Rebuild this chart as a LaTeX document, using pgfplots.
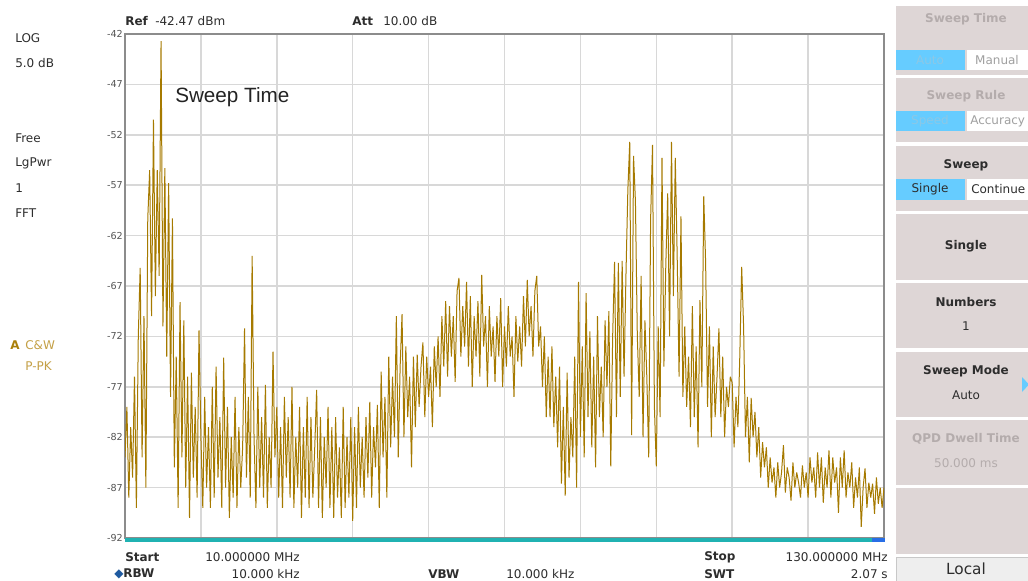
\documentclass[border=0pt]{standalone}
\usepackage{pgfplots}
\pgfplotsset{compat=1.18}
\usepackage{fontspec}
\setmainfont{DejaVu Sans}
\newfontfamily\arialfont{Liberation Sans}
\definecolor{trace}{RGB}{166,122,0}
\definecolor{gridc}{RGB}{216,216,216}
\definecolor{axisc}{RGB}{140,140,140}
\definecolor{txt}{RGB}{45,45,45}
\definecolor{tickc}{RGB}{85,85,85}
\definecolor{pbg}{RGB}{222,214,214}
\definecolor{pdis}{RGB}{180,172,172}
\definecolor{blueb}{RGB}{102,204,255}
\definecolor{bluetxt}{RGB}{140,200,230}
\definecolor{tealbar}{RGB}{32,178,178}
\definecolor{gold}{RGB}{170,128,10}
\definecolor{goldl}{RGB}{196,160,70}
\definecolor{greyt}{RGB}{160,160,160}
\definecolor{localbg}{RGB}{238,238,238}
\definecolor{localbd}{RGB}{200,200,200}
\definecolor{bluebar}{RGB}{40,110,230}
\definecolor{annot}{RGB}{35,35,35}
\definecolor{diam}{RGB}{30,90,160}
\newcommand\ui{\fontsize{9}{11}\selectfont}
\begin{document}
\begin{tikzpicture}
\begin{scope}[x=0.75pt,y=-0.75pt]
\useasboundingbox (0,0) rectangle (1028,581);
\fill[white] (0,0) rectangle (1028,581);
% left labels
\begin{scope}[every node/.style={anchor=west,inner sep=0,font=\ui,text=txt}]
\node at (15,38) {LOG};
\node at (15,63) {5.0 dB};
\node at (15,138) {Free};
\node at (15,163) {LgPwr};
\node at (15,188) {1};
\node at (15,213) {FFT};
\node[font=\ui\bfseries,text=gold] at (10,345) {A};
\node[text=goldl] at (25,345) {C\&W};
\node[text=goldl] at (25,366) {P-PK};
% top
\node[font=\ui\bfseries] at (125,21) {Ref};
\node at (155,21) {-42.47 dBm};
\node[font=\ui\bfseries] at (352,21) {Att};
\node at (383,21) {10.00 dB};
% bottom
\node[font=\ui\bfseries] at (125,557) {Start};
\node[anchor=east] at (300,557) {10.000000 MHz};
\node at (114,574) {\textcolor{diam}{◆}\textbf{RBW}};
\node[anchor=east] at (300,574) {10.000 kHz};
\node[font=\ui\bfseries] at (428,574) {VBW};
\node at (506,574) {10.000 kHz};
\node[font=\ui\bfseries] at (704,557) {Stop};
\node[anchor=east] at (888,557) {130.000000 MHz};
\node[font=\ui\bfseries] at (704,574) {SWT};
\node[anchor=east] at (888,574) {2.07 s};
\end{scope}
% right panel
\fill[pbg] (896,6) rectangle (1028,75);
\fill[pbg] (896,78) rectangle (1028,142);
\fill[pbg] (896,146) rectangle (1028,211);
\fill[pbg] (896,214) rectangle (1028,280);
\fill[pbg] (896,283) rectangle (1028,348);
\fill[pbg] (896,352) rectangle (1028,417);
\fill[pbg] (896,420) rectangle (1028,485);
\fill[pbg] (896,488) rectangle (1028,554);
\filldraw[fill=localbg,draw=localbd] (896,557) rectangle (1030,583);
\fill[blueb] (896,50) rectangle (965,70);
\fill[white] (967,50) rectangle (1028,70);
\fill[blueb] (896,111) rectangle (965,131);
\fill[white] (967,111) rectangle (1028,131);
\fill[blueb] (896,179) rectangle (965,200);
\fill[white] (967,179) rectangle (1028,200);
\fill[blueb] (1022,377) -- (1029,384.5) -- (1022,392) -- cycle;
\begin{scope}[every node/.style={inner sep=0,font=\ui,text=txt}]
\node[font=\ui\bfseries,text=pdis] at (966,19) {Sweep Time};
\node[text=bluetxt] at (930,60) {Auto};
\node[text=greyt] at (997,60) {Manual};
\node[font=\ui\bfseries,text=pdis] at (966,96) {Sweep Rule};
\node[text=bluetxt] at (930,121) {Speed};
\node[anchor=west,text=greyt] at (970,121) {Accuracy};
\node[font=\ui\bfseries] at (966,165) {Sweep};
\node at (930,189.5) {Single};
\node[anchor=west] at (971,189.5) {Continue};
\node[font=\ui\bfseries] at (966,246) {Single};
\node[font=\ui\bfseries] at (966,302) {Numbers};
\node at (966,326) {1};
\node[font=\ui\bfseries] at (966,371) {Sweep Mode};
\node at (966,395) {Auto};
\node[font=\ui\bfseries,text=pdis] at (966,439) {QPD Dwell Time};
\node[text=pdis] at (966,463) {50.000 ms};
\node[font=\fontsize{11.5}{13}\selectfont] at (966,569) {Local};
\end{scope}
\end{scope}
\begin{axis}[
  at={(93.75pt,-403.5pt)}, anchor=south west,
  width=569.25pt, height=378pt, scale only axis,
  xmin=10, xmax=130, ymin=-92, ymax=-42,
  xtick={10,22,34,46,58,70,82,94,106,118,130}, xticklabels={},
  ytick={-92,-87,-82,-77,-72,-67,-62,-57,-52,-47,-42},
  yticklabels={-92,-87,-82,-77,-72,-67,-62,-57,-52,-47,-42},
  grid=major,
  major grid style={draw=gridc, line width=1.1pt},
  axis line style={draw=axisc, line width=0.9pt},
  major tick length=0pt,
  yticklabel style={font=\fontsize{7.2}{8}\selectfont, text=tickc, inner sep=1.5pt},
]
\addplot[trace, line width=0.75pt, mark=none, line join=miter, miter limit=2] coordinates {
(10.0,-84) (10.3,-79) (10.6,-88) (10.9,-81) (11.2,-86) (11.5,-76) (11.8,-89) (12.1,-72) (12.4,-65.2) (12.7,-84)
(13.0,-70) (13.3,-87) (13.6,-60.3) (13.9,-55.5) (14.2,-70) (14.5,-50.5) (14.8,-68) (15.1,-55.5) (15.4,-66) (15.7,-42.7)
(16.0,-71) (16.3,-55.3) (16.6,-74) (16.9,-56.8) (17.2,-78) (17.5,-60.3) (17.8,-85) (18.1,-74) (18.4,-89) (18.7,-68.6)
(19.0,-84) (19.3,-70.4) (19.6,-87) (19.9,-76) (20.2,-90) (20.5,-75.6) (20.8,-86) (21.1,-79) (21.4,-88) (21.7,-71.4)
(22.0,-82) (22.3,-89) (22.6,-78) (22.9,-87) (23.2,-81) (23.5,-89) (23.8,-77) (24.1,-88) (24.4,-75) (24.7,-86)
(25.0,-80) (25.3,-89) (25.6,-74.1) (25.9,-87) (26.2,-79) (26.5,-90) (26.8,-82) (27.1,-88) (27.4,-78) (27.7,-89)
(28.0,-81) (28.3,-87) (28.6,-83) (28.9,-71.2) (29.2,-86) (29.5,-78) (29.8,-88) (30.1,-64) (30.4,-82) (30.7,-89)
(31.0,-77) (31.3,-87) (31.6,-80) (31.9,-88) (32.2,-76.8) (32.5,-89) (32.8,-82) (33.1,-87) (33.4,-73.5) (33.7,-84)
(34.0,-79) (34.3,-88) (34.6,-81) (34.9,-89) (35.2,-78) (35.5,-86) (35.8,-80) (36.1,-88) (36.4,-77) (36.7,-89)
(37.0,-82) (37.3,-87) (37.6,-79) (37.9,-90) (38.2,-81) (38.5,-88) (38.8,-78) (39.1,-89) (39.4,-80) (39.7,-88)
(40.0,-83) (40.3,-77.3) (40.6,-89) (40.9,-80) (41.2,-90) (41.5,-82) (41.8,-87) (42.1,-79) (42.4,-89) (42.7,-81)
(43.0,-90) (43.3,-80) (43.6,-88) (43.9,-83) (44.2,-90) (44.5,-79) (44.8,-89) (45.1,-82) (45.4,-88) (45.7,-80)
(46.0,-90.3) (46.3,-81) (46.6,-89) (46.9,-79) (47.2,-87) (47.5,-82) (47.8,-88) (48.1,-80) (48.4,-86) (48.7,-78.5)
(49.0,-88) (49.3,-81) (49.6,-85) (49.9,-78.8) (50.2,-89) (50.5,-75.5) (50.8,-84) (51.1,-78) (51.4,-88) (51.7,-74)
(52.0,-83) (52.3,-76) (52.6,-82) (52.9,-70) (53.2,-84) (53.5,-75) (53.8,-69.8) (54.1,-82) (54.4,-73) (54.7,-80)
(55.0,-76) (55.3,-85) (55.6,-74) (55.9,-81) (56.2,-73.8) (56.5,-79) (56.8,-75) (57.1,-72.6) (57.4,-80) (57.7,-74)
(58.0,-78) (58.3,-75) (58.6,-81) (58.9,-73) (59.2,-77) (59.5,-72) (59.8,-78) (60.1,-70) (60.4,-75) (60.7,-68.5)
(61.0,-76) (61.3,-69) (61.6,-74) (61.9,-70) (62.2,-76.5) (62.5,-67.5) (62.8,-66.2) (63.1,-74) (63.4,-69) (63.7,-73)
(64.0,-66.6) (64.3,-75) (64.6,-68) (64.9,-77) (65.2,-70) (65.5,-74) (65.8,-68.5) (66.1,-76) (66.4,-65.9) (66.7,-73)
(67.0,-70) (67.3,-77) (67.6,-69) (67.9,-74) (68.2,-71) (68.5,-76.5) (68.8,-70) (69.1,-74) (69.4,-68.2) (69.7,-77)
(70.0,-71) (70.3,-75) (70.6,-69) (70.9,-74) (71.2,-72) (71.5,-78) (71.8,-70) (72.1,-74.5) (72.4,-71) (72.7,-75)
(73.0,-68) (73.3,-73) (73.6,-66.4) (73.9,-72) (74.2,-69) (74.5,-74) (74.8,-67.5) (75.1,-66) (75.4,-73) (75.7,-71)
(76.0,-77) (76.3,-72) (76.6,-80) (76.9,-74) (77.2,-80) (77.5,-73) (77.8,-81) (78.1,-76) (78.4,-83) (78.7,-75)
(79.0,-86.6) (79.3,-79) (79.6,-87.8) (79.9,-75.6) (80.2,-86) (80.5,-80) (80.8,-84) (81.1,-74) (81.4,-87) (81.7,-66.6)
(82.0,-82) (82.3,-73) (82.6,-84) (82.9,-67.7) (83.2,-80) (83.5,-71.5) (83.8,-83) (84.1,-74) (84.4,-85) (84.7,-70)
(85.0,-80) (85.3,-75) (85.6,-82) (85.9,-70.4) (86.2,-77) (86.5,-69.5) (86.8,-84.9) (87.1,-72) (87.4,-64.6) (87.7,-80)
(88.0,-64.7) (88.3,-78) (88.6,-64.5) (88.9,-76) (89.2,-66) (89.5,-57.5) (89.8,-52.7) (90.1,-81.8) (90.4,-54.1) (90.7,-58.6)
(91.0,-72) (91.3,-78) (91.6,-66) (91.9,-82) (92.2,-70.4) (92.5,-76) (92.8,-84) (93.1,-60.4) (93.4,-53) (93.7,-79)
(94.0,-84.9) (94.3,-71) (94.6,-80) (94.9,-54.3) (95.2,-75) (95.5,-65) (95.8,-57.8) (96.1,-72) (96.4,-52.7) (96.7,-68)
(97.0,-54.3) (97.3,-64) (97.6,-76) (97.9,-60.1) (98.2,-78) (98.5,-71) (98.8,-79) (99.1,-74) (99.4,-81) (99.7,-69)
(100.0,-80) (100.3,-73) (100.6,-83) (100.9,-68.4) (101.2,-77) (101.5,-58.1) (101.8,-64.7) (102.1,-79) (102.4,-71) (102.7,-82)
(103.0,-73) (103.3,-80) (103.6,-76) (103.9,-71.2) (104.2,-80) (104.5,-74) (104.8,-82) (105.1,-77) (105.4,-79) (105.7,-76)
(106.0,-76.6) (106.3,-83) (106.6,-78) (106.9,-81) (107.2,-74) (107.5,-65.1) (107.8,-71) (108.1,-82) (108.4,-78) (108.7,-84.5)
(109.0,-78.1) (109.3,-82) (109.6,-79.5) (109.9,-84) (110.2,-81) (110.5,-86) (110.8,-82.5) (111.1,-85) (111.4,-83) (111.7,-87)
(112.0,-84) (112.3,-86.5) (112.6,-85) (112.9,-88) (113.2,-84.5) (113.5,-87) (113.8,-85.5) (114.1,-82.8) (114.4,-87.5) (114.7,-85)
(115.0,-86) (115.3,-88.3) (115.6,-84.5) (115.9,-87) (116.2,-85.5) (116.5,-86.5) (116.8,-88) (117.1,-84.8) (117.4,-87) (117.7,-85.5)
(118.0,-88) (118.3,-84) (118.6,-86.5) (118.9,-85) (119.2,-88) (119.5,-83.5) (119.8,-87) (120.1,-84) (120.4,-88.5) (120.7,-85)
(121.0,-87) (121.3,-83.3) (121.6,-88) (121.9,-84) (122.2,-86.5) (122.5,-85) (122.8,-89.5) (123.1,-84) (123.4,-87) (123.7,-83.3)
(124.0,-88) (124.3,-85.5) (124.6,-87) (124.9,-84.5) (125.2,-89) (125.5,-86) (125.8,-88) (126.1,-85) (126.4,-90.9) (126.7,-87)
(127.0,-85.1) (127.3,-89) (127.6,-86.5) (127.9,-88) (128.2,-86.6) (128.5,-89.6) (128.8,-86) (129.1,-88.6) (129.4,-87) (129.7,-89)
(130.0,-87)
};
\end{axis}
\begin{scope}[x=0.75pt,y=-0.75pt]
\fill[tealbar] (124.5,537.5) rectangle (884.5,542);
\fill[bluebar] (872,538) rectangle (884.5,542);
\node[anchor=west,inner sep=0,font=\arialfont\fontsize{15.5}{18}\selectfont,text=annot] at (175,97) {Sweep Time};
\end{scope}
\end{tikzpicture}
\end{document}
